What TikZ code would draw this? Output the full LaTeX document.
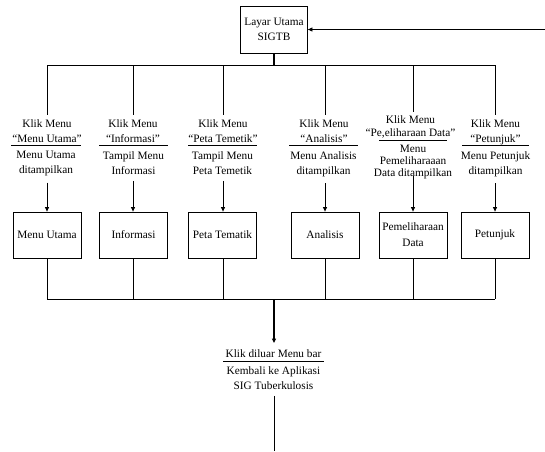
\documentclass[tikz,border=0pt]{standalone}
\usepackage{fontspec}
\setmainfont{Liberation Serif}
\usetikzlibrary{arrows.meta}
\begin{document}
\begin{tikzpicture}[x=1pt,y=-1pt,
  font=\fontsize{11.3}{15}\selectfont,
  line width=0.8pt,
  box/.style={draw, line width=0.8pt, minimum width=68pt, minimum height=46pt,
    inner sep=1pt, align=center},
  event/.style={anchor=north, inner xsep=0pt, inner ysep=4pt, align=center},
  result/.style={anchor=north, inner xsep=0pt, inner ysep=6pt, align=center},
  tip/.style={-{Triangle[length=4.5pt,width=4pt]}},
  stem/.style={line width=1.6pt}
]
\useasboundingbox (0,0) rectangle (545,451);

% main screen
\node[box, minimum width=67pt, minimum height=47pt] (main) at (274,29.5) {Layar Utama\\SIGTB};
\coordinate (ret) at (545,29.5);
\draw[tip] (ret) -- (main.east);

% upper distribution bus
\coordinate (hub) at (274,65);
\foreach \i/\x in {1/47,2/133,3/223,4/325,5/413,6/495}
  \coordinate (b\i) at (\x,65);

% menu events (click) and responses
\node[event] (e1) at (47,115) {Klik Menu\\“Menu Utama”};
\node[event] (e2) at (133,115) {Klik Menu\\“Informasi”};
\node[event] (e3) at (223,115) {Klik Menu\\“Peta Temetik”};
\node[event] (e4) at (324,115) {Klik Menu\\“Analisis”};
\node[event, font=\fontsize{11.3}{13}\selectfont] (e5) at (410.5,111.5) {Klik Menu\\“Pe,eliharaan Data”};
\node[event] (e6) at (495.5,115) {Klik Menu\\“Petunjuk”};

\node[result] (r1) at (46,145) {Menu Utama\\ditampilkan};
\node[result] (r2) at (133.5,145) {Tampil Menu\\Informasi};
\node[result] (r3) at (222.5,145) {Tampil Menu\\Peta Temetik};
\node[result] (r4) at (323.5,145) {Menu Analisis\\ditampilkan};
\node[result, inner ysep=5pt, font=\fontsize{11.3}{12}\selectfont] (r5) at (413,140) {Menu\\Pemeliharaaan\\Data ditampilkan};
\node[result] (r6) at (495.5,145) {Menu Petunjuk\\ditampilkan};

% dividers between event and response
\foreach \i/\w in {1/35,2/34.5,3/34.5,4/34.5,5/34,6/33.5}
  \draw ([xshift=-\w pt]r\i.north) -- ([xshift=\w pt]r\i.north);

% menu pages
\node[box] (m1) at (47,235) {Menu Utama};
\node[box] (m2) at (133.5,235) {Informasi};
\node[box] (m3) at (222.5,235) {Peta Tematik};
\node[box] (m4) at (325,235) {Analisis};
\node[box, font=\fontsize{11.3}{16}\selectfont] (m5) at (413,235) {Pemeliharaan\\Data};
\node[box] (m6) at (495,235) {Petunjuk};

% lower collecting bus
\coordinate (hub2) at (274,299);
\foreach \i/\x in {1/47,2/133,3/223,4/325,5/413,6/495}
  \coordinate (d\i) at (\x,299);

% exit event
\node[event, inner ysep=6pt] (fin) at (273.5,343) {Klik diluar Menu bar};
\node[result, inner ysep=5.5pt] (back) at (273.5,361) {Kembali ke Aplikasi\\SIG Tuberkulosis};
\draw ([xshift=-50.5pt]back.north) -- ([xshift=50.5pt]back.north);
\coordinate (exit) at (274,451);

% connectors
\draw[stem] (main.south) -- (hub);
\draw (b1) -- (b6);
\foreach \i in {1,...,6} {
  \draw (b\i) -- (b\i |- e\i.north);
  \draw (b\i |- m\i.south) -- (d\i);
}
\foreach \i in {1,2,3,4,6}
  \draw[tip] (b\i |- r\i.south) -- (b\i |- m\i.north);
\draw[tip] ([yshift=9pt]b5 |- r5.south) -- (b5 |- m5.north);
\draw (d1) -- (d6);
\draw[stem, tip] (hub2) -- (fin.north -| hub2);
\draw (back.south -| exit) -- (exit);
\end{tikzpicture}
\end{document}
